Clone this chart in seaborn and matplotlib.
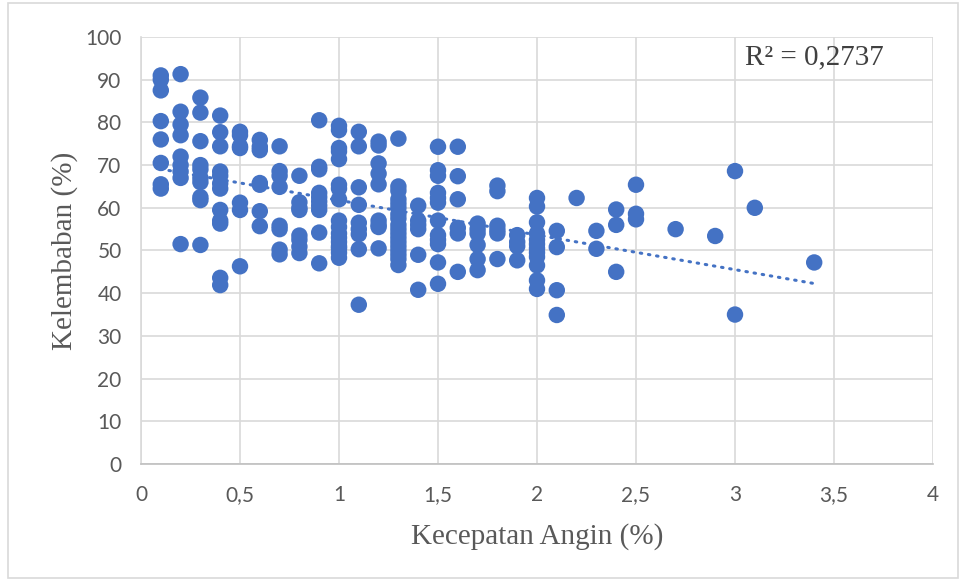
import numpy as np
import pandas as pd
import matplotlib
matplotlib.use("Agg")
import matplotlib.pyplot as plt
import seaborn as sns
from matplotlib.patches import Rectangle

# Wind speed groups and the humidity readings recorded at each speed
wind_levels = [0.1, 0.2, 0.3, 0.4, 0.5, 0.6, 0.7, 0.8, 0.9, 1.0, 1.1, 1.2, 1.3,
               1.4, 1.5, 1.6, 1.7, 1.8, 1.9, 2.0, 2.1, 2.2, 2.3, 2.4, 2.5,
               2.7, 2.9, 3.0, 3.1, 3.4]

hum_01 = [91, 90, 87.5, 80.3, 76, 70.5, 65.5, 64.5]
hum_02 = [91.3, 82.5, 79.5, 77, 72, 70, 68.5, 67, 51.5]
hum_03 = [85.8, 82.3, 75.6, 70, 69, 67, 66, 62.5, 61.8, 51.3]
hum_04 = [81.6, 77.7, 74.4, 68.5, 67.5, 65.7, 64.5, 59.5, 57, 56.3, 43.6, 41.9]
hum_05 = [77.8, 77, 74.4, 74, 61.2, 59.5, 46.3]
hum_06 = [75.9, 74.3, 73.5, 65.8, 65.4, 59.2, 55.7]
hum_07 = [74.4, 68.6, 67.5, 64.9, 55.8, 55, 50.2, 49.1]
hum_08 = [67.5, 61.3, 60, 59.5, 53.5, 52.5, 50.9, 49.4]
hum_09 = [80.5, 69.6, 69, 63.5, 62.5, 61.5, 60.5, 59.5, 54.2, 47]
hum_10 = [79.2, 78.2, 74, 73.2, 71.4, 65.4, 64.5, 62, 57, 55.5, 54, 53, 52,
          51, 50.5, 49.5, 48.3]
hum_11 = [77.8, 74.4, 64.8, 60.7, 56.5, 55, 53.8, 50.3, 37.3]
hum_12 = [75.5, 74.6, 70.4, 68, 65.5, 57, 56, 55.5, 50.5]
hum_13 = [76.2, 65, 64, 62, 61, 60, 58.5, 57.5, 56, 55, 54, 53, 52, 51, 50,
          49, 48, 46.6]
hum_14 = [60.5, 57, 56, 55, 49, 40.8]
hum_15 = [74.3, 68.8, 67.5, 63.5, 62.3, 61.2, 57, 53.6, 52.5, 51.5, 47.2, 42.2]
hum_16 = [74.3, 67.4, 62, 55.3, 54, 45]
hum_17 = [56.3, 55, 54, 51.3, 48, 45.4]
hum_18 = [65.2, 63.9, 55.8, 54.8, 54, 48]
hum_19 = [53.6, 52, 51, 47.7]
hum_20 = [62.3, 60.3, 56.6, 54, 52.5, 51.5, 50.5, 49.5, 48.5, 46.5, 43, 41]
hum_21 = [54.6, 50.8, 40.7, 34.9]
hum_22 = [62.3]
hum_23 = [54.6, 50.4]
hum_24 = [59.6, 56, 45]
hum_25 = [65.4, 58.6, 57.3]
hum_27 = [55]
hum_29 = [53.4]
hum_30 = [68.6, 35]
hum_31 = [60]
hum_34 = [47.2]

humidity_groups = [hum_01, hum_02, hum_03, hum_04, hum_05, hum_06, hum_07,
                   hum_08, hum_09, hum_10, hum_11, hum_12, hum_13, hum_14,
                   hum_15, hum_16, hum_17, hum_18, hum_19, hum_20, hum_21,
                   hum_22, hum_23, hum_24, hum_25, hum_27, hum_29, hum_30,
                   hum_31, hum_34]

x_ticks = [0, 0.5, 1, 1.5, 2, 2.5, 3, 3.5, 4]
x_tick_labels = ["0", "0,5", "1", "1,5", "2", "2,5", "3", "3,5", "4"]
y_ticks = [0, 10, 20, 30, 40, 50, 60, 70, 80, 90, 100]
r2_label = "R² = 0,2737"

rows = []
for w, hs in zip(wind_levels, humidity_groups):
    for h in hs:
        rows.append((w, h))
df = pd.DataFrame(rows, columns=["angin", "kelembaban"])

sns.set_theme(style="white")
plt.rcParams["font.family"] = ["DejaVu Sans"]

blue = "#4472C4"
grid_col = "#D9D9D9"
tick_col = "#595959"

fig = plt.figure(figsize=(9.62, 5.81), dpi=100)
ax = fig.add_axes([141 / 962, 1 - 464 / 581, (933 - 141) / 962, (464 - 37) / 581])

sns.scatterplot(data=df, x="angin", y="kelembaban", ax=ax, color=blue,
                s=140, edgecolor="none", linewidth=0, zorder=3)

# Linear trendline over the observed range
slope, intercept = np.polyfit(df["angin"], df["kelembaban"], 1)
xs = np.array([df["angin"].min(), df["angin"].max()])
ax.plot(xs, slope * xs + intercept, color=blue, linewidth=2.2,
        linestyle=(0, (0.5, 2.2)), dash_capstyle="round", zorder=4)

ax.set_xlim(0, 4)
ax.set_ylim(0, 100)
ax.set_xticks(x_ticks)
ax.set_xticklabels(x_tick_labels)
ax.set_yticks(y_ticks)
ax.grid(True, color=grid_col, linewidth=1.2, zorder=0)
ax.set_axisbelow(True)
for side in ["top", "right"]:
    ax.spines[side].set_visible(False)
ax.spines["left"].set_color(grid_col)
ax.spines["left"].set_linewidth(1.2)
ax.spines["bottom"].set_color("#BFBFBF")
ax.spines["bottom"].set_linewidth(1.2)

ax.tick_params(axis="both", length=0, labelsize=15, labelcolor=tick_col)
ax.tick_params(axis="x", pad=15)
ax.tick_params(axis="y", pad=14)
for lbl in ax.get_xticklabels() + ax.get_yticklabels():
    lbl.set_family("Lato")

ax.set_xlabel("Kecepatan Angin (%)", family="Liberation Serif", fontsize=21,
              color=tick_col, labelpad=13)
ax.set_ylabel("Kelembaban (%)", family="Liberation Serif", fontsize=21,
              color=tick_col, labelpad=5)

ax.text(3.05, 95.2, r2_label, family="Liberation Serif", fontsize=21,
        color="#404040", ha="left", va="center")

# Chart border
fig.patches.append(Rectangle((8 / 962, 3 / 581), 950 / 962, 575 / 581,
                             transform=fig.transFigure, fill=False,
                             edgecolor="#D9D9D9", linewidth=1.2))

fig.savefig("out.png", dpi=100)
